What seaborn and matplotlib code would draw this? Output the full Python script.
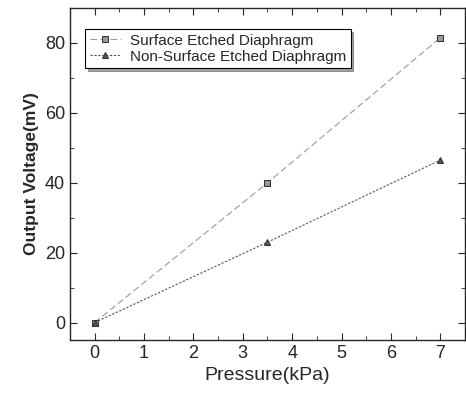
import numpy as np
import pandas as pd
import seaborn as sns
import matplotlib.pyplot as plt
from matplotlib.ticker import MultipleLocator

# --- data ---
pressure = [0, 3.5, 7]
surface_etched = [0, 40, 81.5]
non_surface_etched = [0, 23, 46.5]
series_names = ["Surface Etched Diaphragm", "Non-Surface Etched Diaphragm"]

df = pd.DataFrame({
    "Pressure": pressure * 2,
    "Voltage": surface_etched + non_surface_etched,
    "Series": [series_names[0]] * 3 + [series_names[1]] * 3,
})

sns.set_style("ticks")
plt.rcParams['font.family'] = ['Liberation Sans', 'DejaVu Sans']

fig = plt.figure(figsize=(4.66, 4.01), dpi=100)
ax = fig.add_axes([0.150, 0.152, 0.848, 0.828])

sns.lineplot(data=df, x="Pressure", y="Voltage", hue="Series", style="Series",
             markers=["s", "^"], dashes=[(6, 3), (2, 1.5)],
             palette=["#9a9a9a", "#555555"], linewidth=0.8, markersize=4,
             markeredgecolor="#333333", ax=ax)

ax.set_xlim(-0.5, 7.5)
ax.set_ylim(-5, 90)
ax.xaxis.set_major_locator(MultipleLocator(1))
ax.xaxis.set_minor_locator(MultipleLocator(0.5))
ax.yaxis.set_major_locator(MultipleLocator(20))
ax.yaxis.set_minor_locator(MultipleLocator(10))
ax.tick_params(which='both', direction='in', top=True, right=True, labelsize=13)
ax.tick_params(which='major', length=5)
ax.tick_params(which='minor', length=3)
for s in ax.spines.values():
    s.set_linewidth(1.0)

ax.set_xlabel("Pressure(kPa)", fontsize=14)
ax.set_ylabel("Output Voltage(mV)", fontsize=12.5, fontweight='bold')

leg = ax.legend(loc='upper left', fontsize=11, frameon=True, shadow=True,
                fancybox=False, edgecolor='black', handlelength=2.0,
                borderpad=0.3, labelspacing=0.15, handletextpad=0.6,
                bbox_to_anchor=(0.02, 0.96))
leg.get_frame().set_linewidth(0.8)

fig.savefig("out.png", dpi=100)
